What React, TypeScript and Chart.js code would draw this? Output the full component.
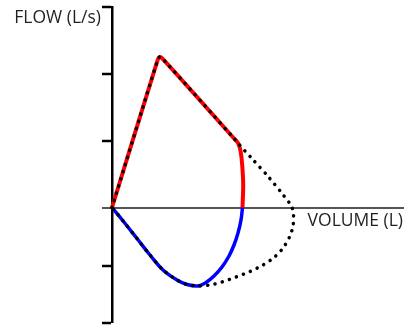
import React, { useEffect, useRef } from "react";
import { Chart, registerables } from "chart.js";
Chart.register(...registerables);

// Expiratory limb (red)
const expVolume = [0, 1.558, 1.627, 1.729, 4.212, 4.325, 4.408, 4.459, 4.493, 4.469];
const expFlow = [0, 4.399, 4.503, 4.458, 2.035, 1.915, 1.661, 1.272, 0.673, 0];

// Inspiratory limb (blue)
const inspVolume = [4.469, 4.418, 4.315, 4.178, 4.007, 3.767, 3.493, 3.219, 2.945, 2.568, 2.226, 1.747, 1.301, 0.856, 0.394, 0];
const inspFlow = [0, -0.374, -0.763, -1.122, -1.451, -1.78, -2.05, -2.244, -2.349, -2.304, -2.169, -1.87, -1.421, -0.928, -0.419, 0];

// Predicted / normal loop (black dotted)
const predVolume = [0, 1.558, 1.627, 1.729, 4.212, 4.325, 4.784, 5.353, 5.866, 6.154, 6.216, 6.199, 6.079, 5.856, 5.548, 5.171, 4.726, 4.247, 3.767, 3.356, 2.945, 2.568, 2.226, 1.747, 1.301, 0.856, 0.394, 0];
const predFlow = [0, 4.399, 4.503, 4.458, 2.035, 1.915, 1.472, 0.922, 0.374, 0.024, -0.224, -0.554, -0.883, -1.212, -1.496, -1.721, -1.915, -2.08, -2.229, -2.319, -2.349, -2.304, -2.169, -1.87, -1.421, -0.928, -0.419, 0];

const yTickValues = [6, 4, 2, 0, -1.75, -3.456];
const xRange = [0, 10];

const yTitle = "FLOW (L/s)";
const xTitle = "VOLUME (L)";

const toPts = (xs: number[], ys: number[]) => xs.map((x, i) => ({ x, y: ys[i] }));

const labelPlugin = {
  id: "axisLabels",
  afterDraw(chart: any) {
    const { ctx, chartArea, scales } = chart;
    const y0 = scales.y.getPixelForValue(0);
    ctx.save();
    ctx.fillStyle = "#231f20";
    ctx.font = "17.5px 'Open Sans'";
    ctx.textBaseline = "alphabetic";
    ctx.textAlign = "right";
    ctx.fillText(yTitle, chartArea.left - 11, chartArea.top + 16);
    ctx.fillText(xTitle, chartArea.right - 1, y0 + 18);
    ctx.restore();
  },
};

export default function App() {
  const ref = useRef<HTMLCanvasElement>(null);
  useEffect(() => {
    document.body.style.margin = "0";
    const chart = new Chart(ref.current!, {
      type: "scatter",
      data: {
        datasets: [
          {
            data: toPts(predVolume, predFlow),
            showLine: true,
            borderColor: "#000",
            borderWidth: 3.5,
            borderDash: [0.1, 7.4],
            borderCapStyle: "round",
            pointRadius: 0,
            tension: 0.3,
            clip: false,
          },
          {
            data: toPts(expVolume, expFlow),
            showLine: true,
            borderColor: "#ff0000",
            borderWidth: 4,
            pointRadius: 0,
            tension: 0.3,
            clip: false,
          },
          {
            data: toPts(inspVolume, inspFlow),
            showLine: true,
            borderColor: "#0000ff",
            borderWidth: 3.5,
            pointRadius: 0,
            tension: 0.4,
            clip: false,
          },
        ],
      },
      options: {
        responsive: false,
        animation: false,
        layout: { padding: { left: 102, right: 9, top: 7, bottom: 6 } },
        plugins: { legend: { display: false }, tooltip: { enabled: false } },
        scales: {
          x: {
            type: "linear",
            min: xRange[0],
            max: xRange[1],
            display: false,
          },
          y: {
            type: "linear",
            min: yTickValues[yTickValues.length - 1],
            max: yTickValues[0],
            afterBuildTicks: (scale: any) => {
              scale.ticks = yTickValues.map((v) => ({ value: v }));
            },
            ticks: { display: false },
            border: { display: true, color: "#000", width: 2.5 },
            grid: {
              drawOnChartArea: true,
              drawTicks: true,
              tickLength: 10,
              color: (c: any) => (c.tick && c.tick.value === 0 ? "#555" : "rgba(0,0,0,0)"),
              lineWidth: (c: any) => (c.tick && c.tick.value === 0 ? 2 : 0),
              tickColor: (c: any) => (c.tick && c.tick.value === 0 ? "#555" : "#000"),
              tickWidth: (c: any) => (c.tick && c.tick.value === 0 ? 2 : 2.5),
            },
          },
        },
      },
      plugins: [labelPlugin],
    });
    return () => chart.destroy();
  }, []);
  return (
    <div style={{ position: "absolute", left: 0, top: 0 }}>
      <canvas ref={ref} width={413} height={329} style={{ display: "block" }} />
    </div>
  );
}
